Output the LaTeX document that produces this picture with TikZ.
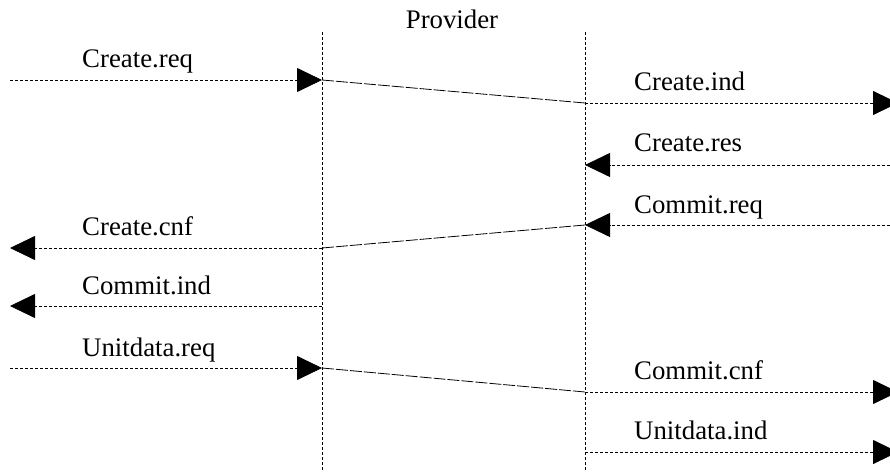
\documentclass[tikz,border=0pt]{standalone}
\usepackage{fontspec}
\setmainfont{Liberation Serif}
\usetikzlibrary{arrows.meta}
\begin{document}
\begin{tikzpicture}[x=1pt,y=-1pt,
  msg/.style={dash pattern=on 3pt off 2pt, line width=0.8pt, -{Triangle[length=25pt,width=24pt]}},
  link/.style={dash pattern=on 12pt off 2pt, line width=0.8pt},
  life/.style={dash pattern=on 3pt off 2pt, line width=0.8pt},
  lbl/.style={anchor=base west, font=\fontsize{26.8}{30}\selectfont, inner sep=0pt}]
\useasboundingbox (0,0) rectangle (890,473);
% lifelines
\coordinate (lt) at (322,32); \coordinate (lb) at (322,470);
\coordinate (rt) at (585,32); \coordinate (rb) at (585,470);
\draw[life] (lt) -- (lb);
\draw[life] (rt) -- (rb);
\node[anchor=base, font=\fontsize{26.8}{30}\selectfont, inner sep=0pt] (prov) at (452,29) {Provider};
% points
\coordinate (a0) at (10,80);  \coordinate (a1) at (322,80);
\coordinate (b0) at (585,103); \coordinate (b1) at (898,103);
\coordinate (c0) at (890,165); \coordinate (c1) at (585,165);
\coordinate (d0) at (890,225); \coordinate (d1) at (585,225);
\coordinate (e0) at (322,248); \coordinate (e1) at (10,248);
\coordinate (f0) at (322,306); \coordinate (f1) at (10,306);
\coordinate (g0) at (10,368); \coordinate (g1) at (322,368);
\coordinate (h0) at (585,392); \coordinate (h1) at (898,392);
\coordinate (i0) at (585,452); \coordinate (i1) at (898,452);
% messages
\draw[msg] (a0) -- (a1);
\draw[link] (a1) -- (b0);
\draw[msg] (b0) -- (b1);
\draw[msg] (c0) -- (c1);
\draw[msg] (d0) -- (d1);
\draw[link] (d1) -- (e0);
\draw[msg] (e0) -- (e1);
\draw[msg] (f0) -- (f1);
\draw[msg] (g0) -- (g1);
\draw[link] (g1) -- (h0);
\draw[msg] (h0) -- (h1);
\draw[msg] (i0) -- (i1);
% labels
\node[lbl] (la) at (82,68) {Create.req};
\node[lbl] (lb2) at (634,91) {Create.ind};
\node[lbl] (lc) at (634,152) {Create.res};
\node[lbl] (ld) at (634,213) {Commit.req};
\node[lbl] (le) at (82,235) {Create.cnf};
\node[lbl] (lf) at (82,294) {Commit.ind};
\node[lbl] (lg) at (82,356) {Unitdata.req};
\node[lbl] (lh) at (634,379) {Commit.cnf};
\node[lbl] (li) at (634,439) {Unitdata.ind};
\end{tikzpicture}
\end{document}
